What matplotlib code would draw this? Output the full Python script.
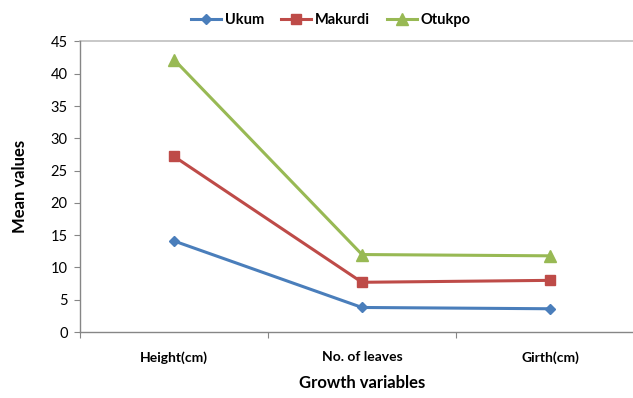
import matplotlib
matplotlib.use("Agg")
import matplotlib.pyplot as plt

categories = ["Height(cm)", "No. of leaves", "Girth(cm)"]
ukum = [14.1, 3.8, 3.6]
makurdi = [27.2, 7.7, 8.0]
otukpo = [42.2, 12.0, 11.8]
y_ticks = [0, 5, 10, 15, 20, 25, 30, 35, 40, 45]

plt.rcParams["font.family"] = ["Lato", "DejaVu Sans"]

fig = plt.figure(figsize=(6.33, 3.98), dpi=100)
ax = fig.add_axes([80 / 633, 66 / 398, 564 / 633, 290.5 / 398])

x = list(range(len(categories)))
ax.plot(x, ukum, color="#4A7EBB", lw=2.2, marker="D", ms=5.5, label="Ukum")
ax.plot(x, makurdi, color="#BE4B48", lw=2.2, marker="s", ms=7, label="Makurdi")
ax.plot(x, otukpo, color="#98B954", lw=2.2, marker="^", ms=8, label="Otukpo")

ax.set_xlim(-0.5, 2.5)
ax.set_ylim(0, 45)
ax.set_yticks(y_ticks)
ax.set_xticks([-0.5, 0.5, 1.5, 2.5])
ax.set_xticklabels([])
ax.set_xticks(x, minor=True)
ax.set_xticklabels(categories, minor=True, fontweight="bold", fontsize=10)
ax.tick_params(axis="x", which="minor", length=0, pad=14)
ax.tick_params(axis="x", which="major", length=4, color="#868686", direction="out")
ax.tick_params(axis="y", length=4, color="#868686", labelsize=10.5, pad=5)

ax.axhline(45, color="#BFBFBF", lw=1.2, clip_on=False)
for side in ["top", "right"]:
    ax.spines[side].set_visible(False)
for side in ["left", "bottom"]:
    ax.spines[side].set_color("#868686")
    ax.spines[side].set_linewidth(1.0)

ax.set_ylabel("Mean values", fontweight="bold", fontsize=12, labelpad=16)
ax.set_xlabel("Growth variables", fontweight="bold", fontsize=12, labelpad=8)

fig.legend(loc="center", bbox_to_anchor=(0.523, 0.95), ncol=3, frameon=False,
           prop={"weight": "bold", "size": 10.5}, handlelength=2.05, columnspacing=1.15,
           handletextpad=0.27)

fig.savefig("out.png", dpi=100)
